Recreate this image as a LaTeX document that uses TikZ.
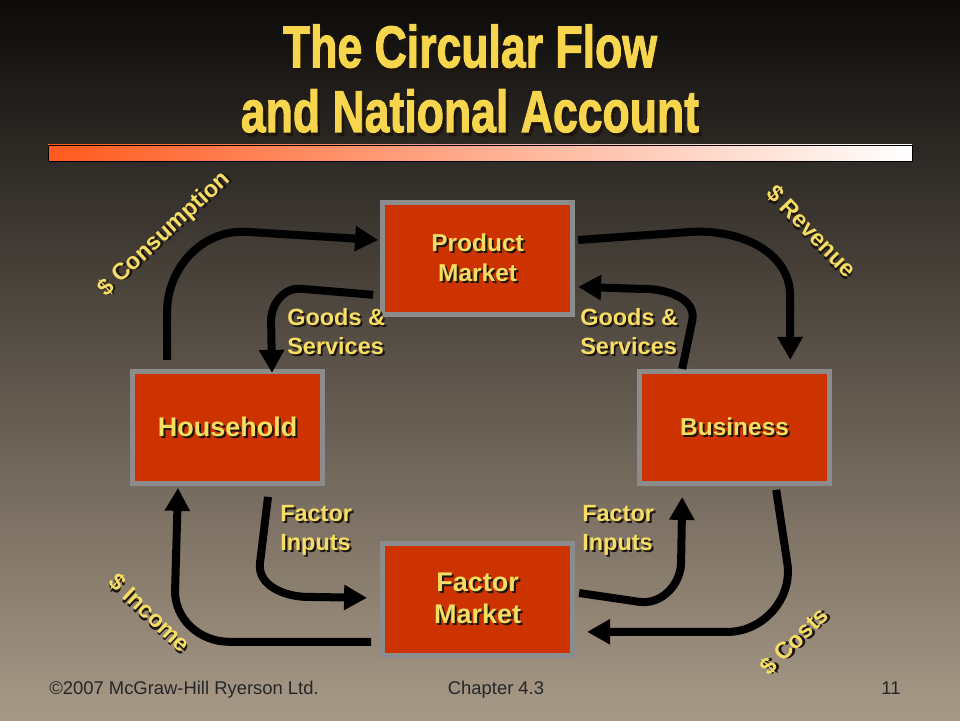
\documentclass[tikz,border=0pt]{standalone}
\usepackage{fontspec}
\setmainfont{Liberation Sans}
\newfontfamily\titlefont[BoldFeatures={FakeBold=2}]{Liberation Sans}
\usetikzlibrary{arrows.meta,positioning}
\definecolor{bgtop}{RGB}{12,11,10}
\definecolor{bgmid}{RGB}{110,100,88}
\definecolor{bgbot}{RGB}{168,153,135}
\definecolor{boxred}{RGB}{204,51,0}
\definecolor{boxedge}{RGB}{140,140,140}
\definecolor{labelgold}{RGB}{246,222,100}
\definecolor{titlegold}{RGB}{247,214,78}
\definecolor{shadowc}{RGB}{30,22,12}
\definecolor{barred}{RGB}{255,90,30}
\newcommand{\shd}[1]{\makebox[0pt][l]{\hspace{1.4pt}\raisebox{-1.4pt}{\color{shadowc}#1}}#1}
\newcommand{\bigshd}[1]{\makebox[0pt][l]{\hspace{2.5pt}\raisebox{-2.5pt}{\color{shadowc}#1}}#1}
\tikzstyle{box} = [rectangle, minimum width=4.75cm, minimum height=2.8cm, line width=1.25mm, draw=boxedge, fill=boxred, align=center, text=labelgold, font=\bfseries\fontsize{17.4}{21.3}\selectfont]
\tikzstyle{big} = [font=\bfseries\fontsize{19.2}{22.8}\selectfont]
\tikzstyle{lbl} = [inner sep=0pt, align=left, text=labelgold, font=\bfseries\fontsize{16.7}{20.6}\selectfont]
\tikzstyle{flow} = [line width=2mm, -{Triangle[length=5.75mm,width=6mm]}]
\tikzstyle{foot} = [inner sep=0pt, text=black!85, font=\fontsize{13.1}{15}\selectfont]

\begin{document}
\begin{tikzpicture}
	\useasboundingbox (0,0) rectangle (24,18);
	\shade[top color=bgtop, middle color=bgmid, bottom color=bgbot] (0,0) rectangle (24,18);
	
	\node[anchor=base, align=center, text=titlegold, font=\titlefont\bfseries\fontsize{42}{46}\selectfont] (title) at (11.75,14.7) {\scalebox{0.755}[1]{\bigshd{The Circular Flow}}\\\scalebox{0.755}[1]{\bigshd{and National Account}}};
	\draw[black, line width=0.5pt, left color=barred, right color=white] (1.2,13.975) rectangle (22.8,14.375);
	
	\node[box] (product) at (11.94,11.54) {\shd{Product}\\\shd{Market}};
	\node[box, big, below=5.6cm of product] (factor) {\shd{Factor}\\\shd{Market}};
	\node[box, big, below left=1.3cm and 1.375cm of product] (household) {\shd{Household}};
	\node[box, below right=1.3cm and 1.55cm of product] (business) {\shd{Business}};
	
	\draw[flow] ([xshift=0.925cm,yshift=0.225cm]household.north west) -- ++(0,1.2) to[out=90,in=176] ++(2,2) -- ([xshift=-0.05cm,yshift=0.46cm]product.west);
	\draw[flow] ([xshift=-0.175cm,yshift=-0.91cm]product.west) -- ++(-1.8,0.15) to[out=175,in=90] ++(-0.75,-0.8) -- ([xshift=1.11cm,yshift=-0.1cm]household.north);
	\draw[flow] ([xshift=0.075cm,yshift=0.46cm]product.east) -- ++(2.8,0.2) to[out=4,in=90] ++(2.5,-1.6) -- ([xshift=1.39cm,yshift=0.225cm]business.north);
	\draw[flow] ([xshift=-1.31cm]business.north) -- ++(0.25,1.2) to[out=78,in=2] ++(-1.3,0.8) -- ([xshift=0.075cm,yshift=-0.71cm]product.east);
	\draw[flow] ([xshift=1.01cm,yshift=-0.275cm]household.south) -- ++(-0.2,-1.65) to[out=-97,in=180] ++(1.2,-0.85) -- ([xshift=-0.325cm,yshift=0.04cm]factor.west);
	\draw[flow] ([xshift=-0.225cm,yshift=-1.06cm]factor.west) -- ++(-3.55,0) to[out=180,in=-92] ++(-1.35,1.3) -- ([xshift=-1.24cm,yshift=-0.05cm]household.south);
	\draw[flow] ([xshift=0.1cm,yshift=0.16cm]factor.east) -- ++(1.5,-0.22) to[out=-8,in=-90] ++(1.05,1.0) -- ([xshift=-1.31cm,yshift=-0.275cm]business.south);
	\draw[flow] ([xshift=1.04cm,yshift=-0.1cm]business.south) -- ++(0.28,-1.85) to[out=-82,in=0] ++(-1.5,-1.7) -- ([xshift=0.3cm,yshift=-0.81cm]factor.east);
	
	\node[lbl, anchor=west] (gsl) at (7.175,9.69) {\shd{Goods \&}\\\shd{Services}};
	\node[lbl, anchor=west] (gsr) at (14.5,9.69) {\shd{Goods \&}\\\shd{Services}};
	\node[lbl, anchor=west] (fil) at (7.0,4.725) {\shd{Factor}\\\shd{Inputs}};
	\node[lbl, anchor=west] (fir) at (14.55,4.725) {\shd{Factor}\\\shd{Inputs}};
	\node[lbl, rotate=43] (cons) at (4.125,12.125) {\shd{\$ Consumption}};
	\node[lbl, rotate=-46] (rev) at (20.275,12.2) {\shd{\$ Revenue}};
	\node[lbl, rotate=-43] (inc) at (3.725,2.66) {\shd{\$ Income}};
	\node[lbl, rotate=44.5] (cost) at (19.875,1.95) {\shd{\$ Costs}};
	
	\node[foot, anchor=base west] (copy) at (1.225,0.65) {©2007 McGraw-Hill Ryerson Ltd.};
	\node[foot, anchor=base] (chap) at (12.4,0.65) {Chapter 4.3};
	\node[foot, anchor=base] (page) at (22.275,0.65) {11};
\end{tikzpicture}
\end{document}
